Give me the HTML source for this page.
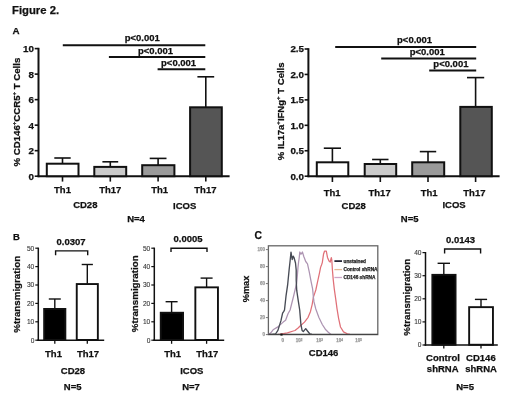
<!DOCTYPE html>
<html><head><meta charset="utf-8"><style>
html,body{margin:0;padding:0;background:#fff;width:520px;height:396px;overflow:hidden}
svg{display:block;font-family:"Liberation Sans", sans-serif;filter:blur(0.45px)}
</style></head><body>
<svg width="520" height="396" viewBox="0 0 520 396">
<rect width="520" height="396" fill="#fff"/>
<text x="12" y="13.6" font-size="11.3" text-anchor="start" font-weight="bold" fill="#111" stroke="#111" stroke-width="0.25" >Figure 2.</text>
<text x="12.6" y="33.8" font-size="9.8" text-anchor="start" font-weight="bold" fill="#111" stroke="#111" stroke-width="0.25" >A</text>
<line x1="38.5" y1="47.800000000000004" x2="38.5" y2="177.2" stroke="#111" stroke-width="2"/>
<line x1="37.5" y1="176.2" x2="229.6" y2="176.2" stroke="#111" stroke-width="2"/>
<line x1="34.7" y1="176.2" x2="38.5" y2="176.2" stroke="#111" stroke-width="1.6"/>
<text x="34" y="179.6" font-size="9.8" text-anchor="end" font-weight="bold" fill="#111" stroke="#111" stroke-width="0.25" >0</text>
<line x1="34.7" y1="150.67999999999998" x2="38.5" y2="150.67999999999998" stroke="#111" stroke-width="1.6"/>
<text x="34" y="154.07999999999998" font-size="9.8" text-anchor="end" font-weight="bold" fill="#111" stroke="#111" stroke-width="0.25" >2</text>
<line x1="34.7" y1="125.16" x2="38.5" y2="125.16" stroke="#111" stroke-width="1.6"/>
<text x="34" y="128.56" font-size="9.8" text-anchor="end" font-weight="bold" fill="#111" stroke="#111" stroke-width="0.25" >4</text>
<line x1="34.7" y1="99.63999999999999" x2="38.5" y2="99.63999999999999" stroke="#111" stroke-width="1.6"/>
<text x="34" y="103.03999999999999" font-size="9.8" text-anchor="end" font-weight="bold" fill="#111" stroke="#111" stroke-width="0.25" >6</text>
<line x1="34.7" y1="74.11999999999999" x2="38.5" y2="74.11999999999999" stroke="#111" stroke-width="1.6"/>
<text x="34" y="77.52" font-size="9.8" text-anchor="end" font-weight="bold" fill="#111" stroke="#111" stroke-width="0.25" >8</text>
<line x1="34.7" y1="48.599999999999994" x2="38.5" y2="48.599999999999994" stroke="#111" stroke-width="1.6"/>
<text x="34" y="51.99999999999999" font-size="9.8" text-anchor="end" font-weight="bold" fill="#111" stroke="#111" stroke-width="0.25" >10</text>
<line x1="62.5" y1="163.7" x2="62.5" y2="158" stroke="#111" stroke-width="1.6"/>
<line x1="54.3" y1="158" x2="70.7" y2="158" stroke="#111" stroke-width="1.6"/>
<rect x="46.8" y="163.7" width="31.700000000000003" height="12.5" fill="#fff" stroke="#111" stroke-width="2"/>
<line x1="62.5" y1="176.2" x2="62.5" y2="181.6" stroke="#111" stroke-width="1.6"/>
<line x1="110.3" y1="166.9" x2="110.3" y2="161.8" stroke="#111" stroke-width="1.6"/>
<line x1="102.39999999999999" y1="161.8" x2="118.2" y2="161.8" stroke="#111" stroke-width="1.6"/>
<rect x="94.3" y="166.9" width="31.900000000000006" height="9.299999999999983" fill="#cacaca" stroke="#111" stroke-width="2"/>
<line x1="110.3" y1="176.2" x2="110.3" y2="181.6" stroke="#111" stroke-width="1.6"/>
<line x1="158.1" y1="165.2" x2="158.1" y2="158.4" stroke="#111" stroke-width="1.6"/>
<line x1="149.7" y1="158.4" x2="166.5" y2="158.4" stroke="#111" stroke-width="1.6"/>
<rect x="142.20000000000002" y="165.2" width="32.19999999999999" height="11.0" fill="#9a9a9a" stroke="#111" stroke-width="2"/>
<line x1="158.1" y1="176.2" x2="158.1" y2="181.6" stroke="#111" stroke-width="1.6"/>
<line x1="205.8" y1="107.3" x2="205.8" y2="76.8" stroke="#111" stroke-width="1.6"/>
<line x1="197.4" y1="76.8" x2="214.20000000000002" y2="76.8" stroke="#111" stroke-width="1.6"/>
<rect x="190.10000000000002" y="107.3" width="31.69999999999999" height="68.89999999999999" fill="#555" stroke="#111" stroke-width="2"/>
<line x1="205.8" y1="176.2" x2="205.8" y2="181.6" stroke="#111" stroke-width="1.6"/>
<text x="62.5" y="193.2" font-size="9.5" text-anchor="middle" font-weight="bold" fill="#111" stroke="#111" stroke-width="0.25" >Th1</text>
<text x="110.3" y="193.2" font-size="9.5" text-anchor="middle" font-weight="bold" fill="#111" stroke="#111" stroke-width="0.25" >Th17</text>
<text x="159.6" y="193.2" font-size="9.5" text-anchor="middle" font-weight="bold" fill="#111" stroke="#111" stroke-width="0.25" >Th1</text>
<text x="205.4" y="193.2" font-size="9.5" text-anchor="middle" font-weight="bold" fill="#111" stroke="#111" stroke-width="0.25" >Th17</text>
<text x="85.3" y="207.8" font-size="9.5" text-anchor="middle" font-weight="bold" fill="#111" stroke="#111" stroke-width="0.25" >CD28</text>
<text x="184.7" y="208.5" font-size="9.5" text-anchor="middle" font-weight="bold" fill="#111" stroke="#111" stroke-width="0.25" >ICOS</text>
<text x="136" y="222.3" font-size="9.5" text-anchor="middle" font-weight="bold" fill="#111" stroke="#111" stroke-width="0.25" >N=4</text>
<line x1="62.8" y1="45.3" x2="205.3" y2="45.3" stroke="#111" stroke-width="2"/>
<line x1="108.9" y1="56.9" x2="205.3" y2="56.9" stroke="#111" stroke-width="2"/>
<line x1="157.6" y1="69.2" x2="205.3" y2="69.2" stroke="#111" stroke-width="2"/>
<text x="142.3" y="41" font-size="9.5" text-anchor="middle" font-weight="bold" fill="#111" stroke="#111" stroke-width="0.25" >p&lt;0.001</text>
<text x="155.5" y="54" font-size="9.5" text-anchor="middle" font-weight="bold" fill="#111" stroke="#111" stroke-width="0.25" >p&lt;0.001</text>
<text x="178.6" y="65.7" font-size="9.5" text-anchor="middle" font-weight="bold" fill="#111" stroke="#111" stroke-width="0.25" >p&lt;0.001</text>
<text transform="translate(19.6,112.1) rotate(-90)" stroke="#111" stroke-width="0.25" font-size="9.65" text-anchor="middle" font-weight="bold" fill="#111">% CD146<tspan font-size="6" dy="-3.5">+</tspan><tspan dy="3.5">CCR5</tspan><tspan font-size="6" dy="-3.5">+</tspan><tspan dy="3.5"> T Cells</tspan></text>
<line x1="308.4" y1="48.2" x2="308.4" y2="177.2" stroke="#111" stroke-width="2"/>
<line x1="307.4" y1="176.2" x2="499.6" y2="176.2" stroke="#111" stroke-width="2"/>
<line x1="304.59999999999997" y1="176.2" x2="308.4" y2="176.2" stroke="#111" stroke-width="1.6"/>
<text x="304" y="179.6" font-size="9.8" text-anchor="end" font-weight="bold" fill="#111" stroke="#111" stroke-width="0.25" >0.0</text>
<line x1="304.59999999999997" y1="150.76" x2="308.4" y2="150.76" stroke="#111" stroke-width="1.6"/>
<text x="304" y="154.16" font-size="9.8" text-anchor="end" font-weight="bold" fill="#111" stroke="#111" stroke-width="0.25" >0.5</text>
<line x1="304.59999999999997" y1="125.32" x2="308.4" y2="125.32" stroke="#111" stroke-width="1.6"/>
<text x="304" y="128.72" font-size="9.8" text-anchor="end" font-weight="bold" fill="#111" stroke="#111" stroke-width="0.25" >1.0</text>
<line x1="304.59999999999997" y1="99.88" x2="308.4" y2="99.88" stroke="#111" stroke-width="1.6"/>
<text x="304" y="103.28" font-size="9.8" text-anchor="end" font-weight="bold" fill="#111" stroke="#111" stroke-width="0.25" >1.5</text>
<line x1="304.59999999999997" y1="74.44" x2="308.4" y2="74.44" stroke="#111" stroke-width="1.6"/>
<text x="304" y="77.84" font-size="9.8" text-anchor="end" font-weight="bold" fill="#111" stroke="#111" stroke-width="0.25" >2.0</text>
<line x1="304.59999999999997" y1="49.0" x2="308.4" y2="49.0" stroke="#111" stroke-width="1.6"/>
<text x="304" y="52.4" font-size="9.8" text-anchor="end" font-weight="bold" fill="#111" stroke="#111" stroke-width="0.25" >2.5</text>
<line x1="332.4" y1="162.3" x2="332.4" y2="148.2" stroke="#111" stroke-width="1.6"/>
<line x1="323.79999999999995" y1="148.2" x2="341.0" y2="148.2" stroke="#111" stroke-width="1.6"/>
<rect x="316.8" y="162.3" width="31.5" height="13.899999999999977" fill="#fff" stroke="#111" stroke-width="2"/>
<line x1="332.4" y1="176.2" x2="332.4" y2="182" stroke="#111" stroke-width="1.6"/>
<line x1="380.3" y1="164" x2="380.3" y2="159.5" stroke="#111" stroke-width="1.6"/>
<line x1="372.1" y1="159.5" x2="388.5" y2="159.5" stroke="#111" stroke-width="1.6"/>
<rect x="364.7" y="164.0" width="31.5" height="12.199999999999989" fill="#cacaca" stroke="#111" stroke-width="2"/>
<line x1="380.3" y1="176.2" x2="380.3" y2="182" stroke="#111" stroke-width="1.6"/>
<line x1="428" y1="162.3" x2="428" y2="151.6" stroke="#111" stroke-width="1.6"/>
<line x1="419.8" y1="151.6" x2="436.2" y2="151.6" stroke="#111" stroke-width="1.6"/>
<rect x="412.2" y="162.3" width="32.0" height="13.899999999999977" fill="#9a9a9a" stroke="#111" stroke-width="2"/>
<line x1="428" y1="176.2" x2="428" y2="182" stroke="#111" stroke-width="1.6"/>
<line x1="475.6" y1="106.9" x2="475.6" y2="77.6" stroke="#111" stroke-width="1.6"/>
<line x1="467.0" y1="77.6" x2="484.20000000000005" y2="77.6" stroke="#111" stroke-width="1.6"/>
<rect x="460.3" y="106.9" width="31.5" height="69.29999999999998" fill="#555" stroke="#111" stroke-width="2"/>
<line x1="475.6" y1="176.2" x2="475.6" y2="182" stroke="#111" stroke-width="1.6"/>
<text x="332.2" y="195.5" font-size="9.5" text-anchor="middle" font-weight="bold" fill="#111" stroke="#111" stroke-width="0.25" >Th1</text>
<text x="379.6" y="195.5" font-size="9.5" text-anchor="middle" font-weight="bold" fill="#111" stroke="#111" stroke-width="0.25" >Th17</text>
<text x="429.1" y="195.5" font-size="9.5" text-anchor="middle" font-weight="bold" fill="#111" stroke="#111" stroke-width="0.25" >Th1</text>
<text x="474.4" y="195.5" font-size="9.5" text-anchor="middle" font-weight="bold" fill="#111" stroke="#111" stroke-width="0.25" >Th17</text>
<text x="353.7" y="208.7" font-size="9.5" text-anchor="middle" font-weight="bold" fill="#111" stroke="#111" stroke-width="0.25" >CD28</text>
<text x="454" y="208.3" font-size="9.5" text-anchor="middle" font-weight="bold" fill="#111" stroke="#111" stroke-width="0.25" >ICOS</text>
<text x="409.7" y="222" font-size="9.5" text-anchor="middle" font-weight="bold" fill="#111" stroke="#111" stroke-width="0.25" >N=5</text>
<line x1="335.2" y1="46.9" x2="476.2" y2="46.9" stroke="#111" stroke-width="2"/>
<line x1="381.2" y1="58.4" x2="476.2" y2="58.4" stroke="#111" stroke-width="2"/>
<line x1="429.2" y1="70.6" x2="476.2" y2="70.6" stroke="#111" stroke-width="2"/>
<text x="414.6" y="42.5" font-size="9.5" text-anchor="middle" font-weight="bold" fill="#111" stroke="#111" stroke-width="0.25" >p&lt;0.001</text>
<text x="427.3" y="55" font-size="9.5" text-anchor="middle" font-weight="bold" fill="#111" stroke="#111" stroke-width="0.25" >p&lt;0.001</text>
<text x="450.9" y="67.1" font-size="9.5" text-anchor="middle" font-weight="bold" fill="#111" stroke="#111" stroke-width="0.25" >p&lt;0.001</text>
<text transform="translate(283.5,111.3) rotate(-90)" stroke="#111" stroke-width="0.25" font-size="9.55" text-anchor="middle" font-weight="bold" fill="#111">% IL17a<tspan font-size="6" dy="-3.5">+</tspan><tspan dy="3.5">IFNg</tspan><tspan font-size="6" dy="-3.5">+</tspan><tspan dy="3.5"> T Cells</tspan></text>
<text x="13" y="239.5" font-size="9.5" text-anchor="start" font-weight="bold" fill="#111" stroke="#111" stroke-width="0.25" >B</text>
<line x1="38.3" y1="247.6" x2="38.3" y2="341.0" stroke="#111" stroke-width="1.5"/>
<line x1="37.3" y1="340.2" x2="104.2" y2="340.2" stroke="#111" stroke-width="1.5"/>
<line x1="35.3" y1="340.2" x2="38.3" y2="340.2" stroke="#111" stroke-width="1.2"/>
<text x="34.3" y="342.5" font-size="6.6" text-anchor="end" font-weight="normal" fill="#333" stroke="#333" stroke-width="0.1" >0</text>
<line x1="35.3" y1="321.8" x2="38.3" y2="321.8" stroke="#111" stroke-width="1.2"/>
<text x="34.3" y="324.1" font-size="6.6" text-anchor="end" font-weight="normal" fill="#333" stroke="#333" stroke-width="0.1" >10</text>
<line x1="35.3" y1="303.4" x2="38.3" y2="303.4" stroke="#111" stroke-width="1.2"/>
<text x="34.3" y="305.7" font-size="6.6" text-anchor="end" font-weight="normal" fill="#333" stroke="#333" stroke-width="0.1" >20</text>
<line x1="35.3" y1="285.0" x2="38.3" y2="285.0" stroke="#111" stroke-width="1.2"/>
<text x="34.3" y="287.3" font-size="6.6" text-anchor="end" font-weight="normal" fill="#333" stroke="#333" stroke-width="0.1" >30</text>
<line x1="35.3" y1="266.6" x2="38.3" y2="266.6" stroke="#111" stroke-width="1.2"/>
<text x="34.3" y="268.90000000000003" font-size="6.6" text-anchor="end" font-weight="normal" fill="#333" stroke="#333" stroke-width="0.1" >40</text>
<line x1="35.3" y1="248.2" x2="38.3" y2="248.2" stroke="#111" stroke-width="1.2"/>
<text x="34.3" y="250.5" font-size="6.6" text-anchor="end" font-weight="normal" fill="#333" stroke="#333" stroke-width="0.1" >50</text>
<line x1="54.8" y1="308.7" x2="54.8" y2="299" stroke="#111" stroke-width="1.4"/>
<line x1="48.8" y1="299" x2="60.8" y2="299" stroke="#111" stroke-width="1.4"/>
<rect x="44.150000000000006" y="308.95" width="21.199999999999996" height="30.99999999999998" fill="#000" stroke="#111" stroke-width="1.9"/>
<line x1="54.8" y1="340.2" x2="54.8" y2="343.8" stroke="#111" stroke-width="1.3"/>
<line x1="87.3" y1="283.8" x2="87.3" y2="264.5" stroke="#111" stroke-width="1.4"/>
<line x1="81.7" y1="264.5" x2="92.89999999999999" y2="264.5" stroke="#111" stroke-width="1.4"/>
<rect x="76.75" y="284.05" width="21.1" height="55.899999999999956" fill="#fff" stroke="#111" stroke-width="1.9"/>
<line x1="87.3" y1="340.2" x2="87.3" y2="343.8" stroke="#111" stroke-width="1.3"/>
<path d="M55.6,255.3 V250.9 H87.7 V255.3" fill="none" stroke="#111" stroke-width="1.4"/>
<text x="71" y="244.6" font-size="9.5" text-anchor="middle" font-weight="bold" fill="#111" stroke="#111" stroke-width="0.25" >0.0307</text>
<text x="53.5" y="357" font-size="9.5" text-anchor="middle" font-weight="bold" fill="#111" stroke="#111" stroke-width="0.25" >Th1</text>
<text x="88" y="357" font-size="9.5" text-anchor="middle" font-weight="bold" fill="#111" stroke="#111" stroke-width="0.25" >Th17</text>
<text x="73" y="373.9" font-size="9.5" text-anchor="middle" font-weight="bold" fill="#111" stroke="#111" stroke-width="0.25" >CD28</text>
<text x="72.7" y="390.1" font-size="9.5" text-anchor="middle" font-weight="bold" fill="#111" stroke="#111" stroke-width="0.25" >N=5</text>
<text transform="translate(19.6,294.3) rotate(-90)" stroke="#111" stroke-width="0.25" font-size="9.75" text-anchor="middle" font-weight="bold" fill="#111">%transmigration</text>
<line x1="154.3" y1="247.6" x2="154.3" y2="341.0" stroke="#111" stroke-width="1.5"/>
<line x1="153.3" y1="340.2" x2="224.2" y2="340.2" stroke="#111" stroke-width="1.5"/>
<line x1="151.3" y1="340.2" x2="154.3" y2="340.2" stroke="#111" stroke-width="1.2"/>
<text x="150.3" y="342.5" font-size="6.6" text-anchor="end" font-weight="normal" fill="#333" stroke="#333" stroke-width="0.1" >0</text>
<line x1="151.3" y1="321.8" x2="154.3" y2="321.8" stroke="#111" stroke-width="1.2"/>
<text x="150.3" y="324.1" font-size="6.6" text-anchor="end" font-weight="normal" fill="#333" stroke="#333" stroke-width="0.1" >10</text>
<line x1="151.3" y1="303.4" x2="154.3" y2="303.4" stroke="#111" stroke-width="1.2"/>
<text x="150.3" y="305.7" font-size="6.6" text-anchor="end" font-weight="normal" fill="#333" stroke="#333" stroke-width="0.1" >20</text>
<line x1="151.3" y1="285.0" x2="154.3" y2="285.0" stroke="#111" stroke-width="1.2"/>
<text x="150.3" y="287.3" font-size="6.6" text-anchor="end" font-weight="normal" fill="#333" stroke="#333" stroke-width="0.1" >30</text>
<line x1="151.3" y1="266.6" x2="154.3" y2="266.6" stroke="#111" stroke-width="1.2"/>
<text x="150.3" y="268.90000000000003" font-size="6.6" text-anchor="end" font-weight="normal" fill="#333" stroke="#333" stroke-width="0.1" >40</text>
<line x1="151.3" y1="248.2" x2="154.3" y2="248.2" stroke="#111" stroke-width="1.2"/>
<text x="150.3" y="250.5" font-size="6.6" text-anchor="end" font-weight="normal" fill="#333" stroke="#333" stroke-width="0.1" >50</text>
<line x1="171.6" y1="312.5" x2="171.6" y2="301.7" stroke="#111" stroke-width="1.4"/>
<line x1="165.6" y1="301.7" x2="177.6" y2="301.7" stroke="#111" stroke-width="1.4"/>
<rect x="160.75" y="312.75" width="22.29999999999999" height="27.199999999999967" fill="#000" stroke="#111" stroke-width="1.9"/>
<line x1="171.6" y1="340.2" x2="171.6" y2="343.8" stroke="#111" stroke-width="1.3"/>
<line x1="206.6" y1="287.1" x2="206.6" y2="278.1" stroke="#111" stroke-width="1.4"/>
<line x1="200.6" y1="278.1" x2="212.6" y2="278.1" stroke="#111" stroke-width="1.4"/>
<rect x="195.35" y="287.35" width="22.6" height="52.599999999999945" fill="#fff" stroke="#111" stroke-width="1.9"/>
<line x1="206.6" y1="340.2" x2="206.6" y2="343.8" stroke="#111" stroke-width="1.3"/>
<path d="M171,252 V248.2 H207 V252" fill="none" stroke="#111" stroke-width="1.4"/>
<text x="188" y="242.3" font-size="9.5" text-anchor="middle" font-weight="bold" fill="#111" stroke="#111" stroke-width="0.25" >0.0005</text>
<text x="172.7" y="357" font-size="9.5" text-anchor="middle" font-weight="bold" fill="#111" stroke="#111" stroke-width="0.25" >Th1</text>
<text x="207.3" y="357" font-size="9.5" text-anchor="middle" font-weight="bold" fill="#111" stroke="#111" stroke-width="0.25" >Th17</text>
<text x="191.8" y="373.9" font-size="9.5" text-anchor="middle" font-weight="bold" fill="#111" stroke="#111" stroke-width="0.25" >ICOS</text>
<text x="191" y="390.1" font-size="9.5" text-anchor="middle" font-weight="bold" fill="#111" stroke="#111" stroke-width="0.25" >N=7</text>
<text transform="translate(138.1,293.8) rotate(-90)" stroke="#111" stroke-width="0.25" font-size="9.75" text-anchor="middle" font-weight="bold" fill="#111">%transmigration</text>
<text x="254.6" y="239.4" font-size="10.3" text-anchor="start" font-weight="bold" fill="#111" stroke="#111" stroke-width="0.25" >C</text>
<line x1="425.5" y1="252.0" x2="425.5" y2="345.8" stroke="#111" stroke-width="1.5"/>
<line x1="424.5" y1="345" x2="497.8" y2="345" stroke="#111" stroke-width="1.5"/>
<line x1="422.5" y1="345.0" x2="425.5" y2="345.0" stroke="#111" stroke-width="1.2"/>
<text x="421.5" y="347.3" font-size="6.6" text-anchor="end" font-weight="normal" fill="#333" stroke="#333" stroke-width="0.1" >0</text>
<line x1="422.5" y1="321.9" x2="425.5" y2="321.9" stroke="#111" stroke-width="1.2"/>
<text x="421.5" y="324.2" font-size="6.6" text-anchor="end" font-weight="normal" fill="#333" stroke="#333" stroke-width="0.1" >10</text>
<line x1="422.5" y1="298.8" x2="425.5" y2="298.8" stroke="#111" stroke-width="1.2"/>
<text x="421.5" y="301.1" font-size="6.6" text-anchor="end" font-weight="normal" fill="#333" stroke="#333" stroke-width="0.1" >20</text>
<line x1="422.5" y1="275.7" x2="425.5" y2="275.7" stroke="#111" stroke-width="1.2"/>
<text x="421.5" y="278.0" font-size="6.6" text-anchor="end" font-weight="normal" fill="#333" stroke="#333" stroke-width="0.1" >30</text>
<line x1="422.5" y1="252.6" x2="425.5" y2="252.6" stroke="#111" stroke-width="1.2"/>
<text x="421.5" y="254.9" font-size="6.6" text-anchor="end" font-weight="normal" fill="#333" stroke="#333" stroke-width="0.1" >40</text>
<line x1="443.8" y1="274.6" x2="443.8" y2="263.3" stroke="#111" stroke-width="1.4"/>
<line x1="437.6" y1="263.3" x2="450.0" y2="263.3" stroke="#111" stroke-width="1.4"/>
<rect x="432.34999999999997" y="274.85" width="23.200000000000024" height="69.89999999999995" fill="#000" stroke="#111" stroke-width="1.9"/>
<line x1="443.8" y1="345" x2="443.8" y2="348.6" stroke="#111" stroke-width="1.3"/>
<line x1="481" y1="306.9" x2="481" y2="299.4" stroke="#111" stroke-width="1.4"/>
<line x1="474.9" y1="299.4" x2="487.1" y2="299.4" stroke="#111" stroke-width="1.4"/>
<rect x="469.15" y="307.15" width="23.79999999999999" height="37.6" fill="#fff" stroke="#111" stroke-width="1.9"/>
<line x1="481" y1="345" x2="481" y2="348.6" stroke="#111" stroke-width="1.3"/>
<path d="M444.6,253.5 V249 H480.6 V253.5" fill="none" stroke="#111" stroke-width="1.4"/>
<text x="460.6" y="243" font-size="9.5" text-anchor="middle" font-weight="bold" fill="#111" stroke="#111" stroke-width="0.25" >0.0143</text>
<text x="443" y="361" font-size="9.5" text-anchor="middle" font-weight="bold" fill="#111" stroke="#111" stroke-width="0.25" >Control</text>
<text x="442.7" y="372.2" font-size="9.5" text-anchor="middle" font-weight="bold" fill="#111" stroke="#111" stroke-width="0.25" >shRNA</text>
<text x="480.9" y="361" font-size="9.5" text-anchor="middle" font-weight="bold" fill="#111" stroke="#111" stroke-width="0.25" >CD146</text>
<text x="481.1" y="372.2" font-size="9.5" text-anchor="middle" font-weight="bold" fill="#111" stroke="#111" stroke-width="0.25" >shRNA</text>
<text x="0" y="0" font-size="9.5" text-anchor="middle" font-weight="bold" fill="#111" stroke="#111" stroke-width="0.25" ></text>
<text x="465.1" y="390.1" font-size="9.5" text-anchor="middle" font-weight="bold" fill="#111" stroke="#111" stroke-width="0.25" >N=5</text>
<text transform="translate(410.2,297.2) rotate(-90)" stroke="#111" stroke-width="0.25" font-size="9.75" text-anchor="middle" font-weight="bold" fill="#111">%transmigration</text>
<rect x="268.4" y="245.8" width="109.40000000000003" height="88.80000000000001" fill="none" stroke="#666" stroke-width="1.3"/>
<line x1="265.9" y1="334.6" x2="268.4" y2="334.6" stroke="#777" stroke-width="1"/>
<text x="264.9" y="336.20000000000005" font-size="4.5" text-anchor="end" font-weight="bold" fill="#999" stroke="#999" stroke-width="0.25" >0</text>
<line x1="265.9" y1="317.6" x2="268.4" y2="317.6" stroke="#777" stroke-width="1"/>
<text x="264.9" y="319.20000000000005" font-size="4.5" text-anchor="end" font-weight="bold" fill="#999" stroke="#999" stroke-width="0.25" >20</text>
<line x1="265.9" y1="300.6" x2="268.4" y2="300.6" stroke="#777" stroke-width="1"/>
<text x="264.9" y="302.20000000000005" font-size="4.5" text-anchor="end" font-weight="bold" fill="#999" stroke="#999" stroke-width="0.25" >40</text>
<line x1="265.9" y1="283.6" x2="268.4" y2="283.6" stroke="#777" stroke-width="1"/>
<text x="264.9" y="285.20000000000005" font-size="4.5" text-anchor="end" font-weight="bold" fill="#999" stroke="#999" stroke-width="0.25" >60</text>
<line x1="265.9" y1="266.6" x2="268.4" y2="266.6" stroke="#777" stroke-width="1"/>
<text x="264.9" y="268.20000000000005" font-size="4.5" text-anchor="end" font-weight="bold" fill="#999" stroke="#999" stroke-width="0.25" >80</text>
<line x1="265.9" y1="249.60000000000002" x2="268.4" y2="249.60000000000002" stroke="#777" stroke-width="1"/>
<text x="264.9" y="251.20000000000002" font-size="4.5" text-anchor="end" font-weight="bold" fill="#999" stroke="#999" stroke-width="0.25" >100</text>
<text x="282.7" y="342" font-size="4.5" text-anchor="middle" font-weight="bold" fill="#999" stroke="#999" stroke-width="0.25" >0</text>
<text x="299" y="342" font-size="4.5" text-anchor="middle" font-weight="bold" fill="#999" stroke="#999" stroke-width="0.25" >10<tspan font-size="3" dy="-1.5">2</tspan></text>
<text x="319.5" y="342" font-size="4.5" text-anchor="middle" font-weight="bold" fill="#999" stroke="#999" stroke-width="0.25" >10<tspan font-size="3" dy="-1.5">3</tspan></text>
<text x="339.5" y="342" font-size="4.5" text-anchor="middle" font-weight="bold" fill="#999" stroke="#999" stroke-width="0.25" >10<tspan font-size="3" dy="-1.5">4</tspan></text>
<text x="358.5" y="342" font-size="4.5" text-anchor="middle" font-weight="bold" fill="#999" stroke="#999" stroke-width="0.25" >10<tspan font-size="3" dy="-1.5">5</tspan></text>
<polyline fill="none" stroke="#e07078" stroke-width="1.25" stroke-linejoin="round" points="278,334.4 280.3,334.2 287.4,332.8 293.3,331 295,330.5 298.1,328 300.4,325.7 304.5,322.1 308.1,317.3 310.5,311.4 312.2,304.3 313.4,297.1 314.6,293.6 315.8,290 317.6,281.7 319.4,273.3 320.6,267.4 321.5,265 322.3,262.6 323.5,254.3 324.5,251.2 326.3,251.2 327.5,257.4 329,261 330.2,262 331.3,257.7 331.8,260 332.4,269.7 333.2,279.4 334.3,289.1 335.7,298.9 337,308.6 338.6,318.3 340.5,327 343.5,331.9 347.3,333.8 350,334.4"/>
<polyline fill="none" stroke="#ad94b2" stroke-width="1.25" stroke-linejoin="round" points="268.4,334.4 270.8,332.8 273.1,329.8 277.9,326.9 283.2,322.1 285.6,320.3 288,313.8 290.1,310 293.5,296.5 296.7,283 297.4,275 298,267.4 298.6,262 299.2,257.9 299.8,252 301,254.3 302.4,252 303.9,256.7 305.7,261.5 307.5,263.8 309.3,272.2 311.1,281.7 312.6,288.8 313.4,297.1 314,301.9 315.8,309 318.8,317.3 322.3,324.5 325.3,329.2 328.3,332.2 331,334.4"/>
<polyline fill="none" stroke="#474b55" stroke-width="1.35" stroke-linejoin="round" points="268.5,334.4 272,334.3 275.5,334 277.9,330.4 280.9,320.9 282.6,313.2 283.8,311.4 284.5,310 286.1,295.3 287.6,285.2 289.1,270 290.2,260 291,252.1 292.2,259.5 293.2,256.2 294,257.5 295.5,263 296.2,270 296.2,280.1 296.7,290.2 298.2,300.3 299.7,310 300.9,324.5 302.1,330.4 303.3,331.6 305.7,328.6 307.5,331 309.9,334 312,334.4"/>
<line x1="268.4" y1="334.4" x2="377.8" y2="334.4" stroke="#444" stroke-width="1.4"/>
<rect x="280.4" y="333.6" width="2.2" height="2" fill="#111"/>
<line x1="334.4" y1="261.1" x2="342" y2="261.1" stroke="#1a1a2a" stroke-width="1.7"/>
<text x="343.5" y="262.90000000000003" font-size="4.75" text-anchor="start" font-weight="bold" fill="#222" stroke="#222" stroke-width="0.25" >unstained</text>
<line x1="334.4" y1="269.6" x2="342" y2="269.6" stroke="#e6bc98" stroke-width="1.3"/>
<text x="343.5" y="271.40000000000003" font-size="4.75" text-anchor="start" font-weight="bold" fill="#222" stroke="#222" stroke-width="0.25" >Control shRNA</text>
<line x1="334.4" y1="277.5" x2="342" y2="277.5" stroke="#cfa6c8" stroke-width="1.3"/>
<text x="343.5" y="279.3" font-size="4.75" text-anchor="start" font-weight="bold" fill="#222" stroke="#222" stroke-width="0.25" >CD146 shRNA</text>
<text x="323.6" y="356.3" font-size="9.5" text-anchor="middle" font-weight="bold" fill="#111" stroke="#111" stroke-width="0.25" >CD146</text>
<text transform="translate(249.3,289) rotate(-90)" stroke="#111" stroke-width="0.25" font-size="9.2" text-anchor="middle" font-weight="bold" fill="#111">%max</text>
</svg>
</body></html>
